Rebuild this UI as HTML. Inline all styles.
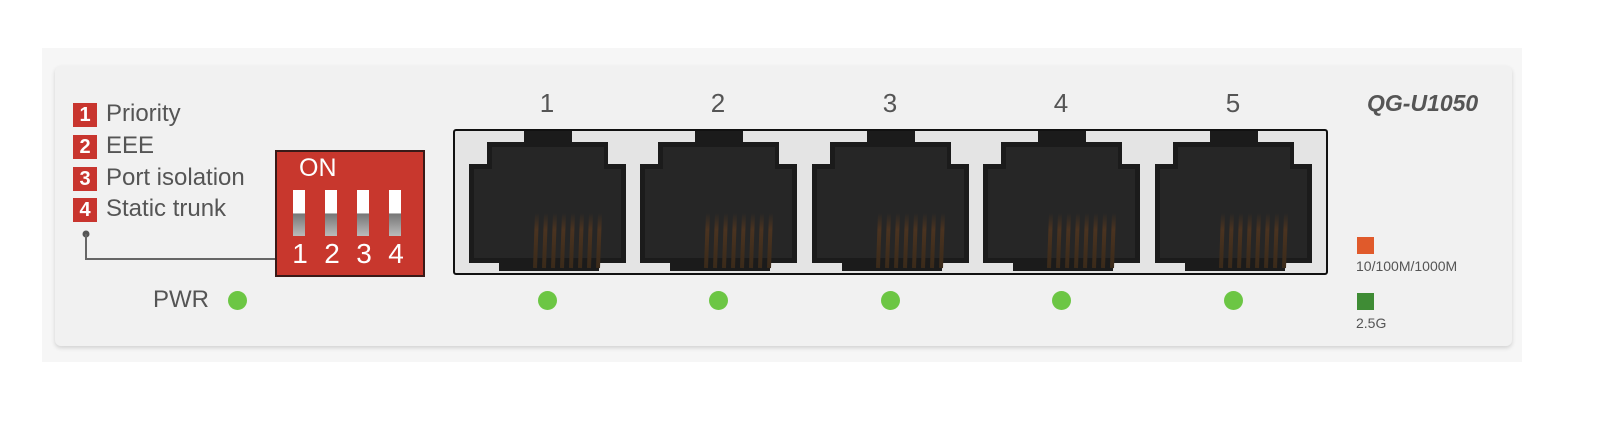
<!DOCTYPE html>
<html><head><style>
body{margin:0;width:1599px;height:422px;background:#fff;position:relative;overflow:hidden;font-family:"Liberation Sans","DejaVu Sans",sans-serif;color:#555}
.a{position:absolute}
.sq{position:absolute;left:73px;width:24px;height:24px;background:#c8352e;color:#fff;font-weight:bold;font-size:20px;text-align:center;line-height:24px}
.lb{position:absolute;left:106px;font-size:24px;line-height:28px;color:#555}
.led{position:absolute;width:19px;height:19px;border-radius:50%;background:#6cc644}
.pn{position:absolute;top:88px;font-size:26px;width:40px;text-align:center;color:#555}
.sw{position:absolute;top:190px;width:12px;height:46px;background:linear-gradient(#fff 0,#fff 50%,#777 52%,#bbb 100%)}
.dn{position:absolute;top:238px;font-size:28px;color:#fff;width:30px;text-align:center}
</style></head><body>
<div class="a" style="left:42px;top:48px;width:1480px;height:314px;background:#f6f6f6"></div>
<div class="a" style="left:55px;top:66px;width:1457px;height:280px;background:#f1f1f1;border-radius:6px;box-shadow:0 2px 4px rgba(0,0,0,.15)"></div>

<div class="sq" style="top:103px">1</div><div class="lb" style="top:100px">Priority</div>
<div class="sq" style="top:135px">2</div><div class="lb" style="top:132px">EEE</div>
<div class="sq" style="top:167px">3</div><div class="lb" style="top:164px">Port isolation</div>
<div class="sq" style="top:198px">4</div><div class="lb" style="top:195px">Static trunk</div>
<svg class="a" style="left:0;top:0" width="300" height="300"><circle cx="86" cy="234" r="3.5" fill="#555"/><polyline points="86,234 86,259 276,259" fill="none" stroke="#666" stroke-width="2"/></svg>

<div class="a" style="left:275px;top:150px;width:146px;height:123px;background:#c8372d;border:2px solid #3a1a18"></div>
<div class="a" style="left:299px;top:154px;font-size:25px;color:#fff">ON</div>
<div class="sw" style="left:293px"></div><div class="sw" style="left:325px"></div><div class="sw" style="left:357px"></div><div class="sw" style="left:389px"></div>
<div class="dn" style="left:285px">1</div><div class="dn" style="left:317px">2</div><div class="dn" style="left:349px">3</div><div class="dn" style="left:381px">4</div>

<div class="a" style="left:153px;top:286px;font-size:24px">PWR</div>
<div class="led" style="left:228px;top:291px"></div>

<div class="a" style="left:453px;top:129px;width:871px;height:142px;background:#e4e4e4;border:2px solid #111;border-radius:3px"></div>
<svg class="a" style="left:0;top:0" width="1599" height="422">
<defs>
<linearGradient id="g" x1="0" y1="0" x2="0" y2="1"><stop offset="0" stop-color="#262626"/><stop offset=".3" stop-color="#4a3320"/><stop offset="1" stop-color="#3a2a1a"/></linearGradient>
<g id="p">
<path d="M0,33 H18 V11 H55 V0 H103 V11 H139 V33 H157 V132 H130 V140 H30 V132 H0 Z" fill="#1b1b1b"/>
<path d="M5,38 H23 V16 H135 V38 H152 V127 H5 Z" fill="#262626"/>
<g stroke="url(#g)" stroke-width="4">
<line x1="68" y1="82" x2="66" y2="137"/><line x1="77" y1="82" x2="75" y2="137"/><line x1="86" y1="82" x2="84" y2="137"/><line x1="95" y1="82" x2="93" y2="137"/><line x1="104" y1="82" x2="102" y2="137"/><line x1="113" y1="82" x2="111" y2="137"/><line x1="122" y1="82" x2="120" y2="137"/><line x1="131" y1="82" x2="129" y2="137"/></g>
</g></defs>
<use href="#p" x="469" y="131"/><use href="#p" x="640" y="131"/><use href="#p" x="812" y="131"/><use href="#p" x="983" y="131"/><use href="#p" x="1155" y="131"/>
</svg>
<div class="pn" style="left:527px">1</div><div class="pn" style="left:698px">2</div><div class="pn" style="left:870px">3</div><div class="pn" style="left:1041px">4</div><div class="pn" style="left:1213px">5</div>
<div class="led" style="left:538px;top:291px"></div><div class="led" style="left:709px;top:291px"></div><div class="led" style="left:881px;top:291px"></div><div class="led" style="left:1052px;top:291px"></div><div class="led" style="left:1224px;top:291px"></div>

<div class="a" style="left:1367px;top:90px;font-size:23px;font-weight:bold;font-style:italic;color:#555">QG-U1050</div>
<div class="a" style="left:1357px;top:237px;width:17px;height:17px;background:#e05a2b"></div>
<div class="a" style="left:1356px;top:258px;font-size:14px">10/100M/1000M</div>
<div class="a" style="left:1357px;top:293px;width:17px;height:17px;background:#3f8c35"></div>
<div class="a" style="left:1356px;top:315px;font-size:14px">2.5G</div>
</body></html>
